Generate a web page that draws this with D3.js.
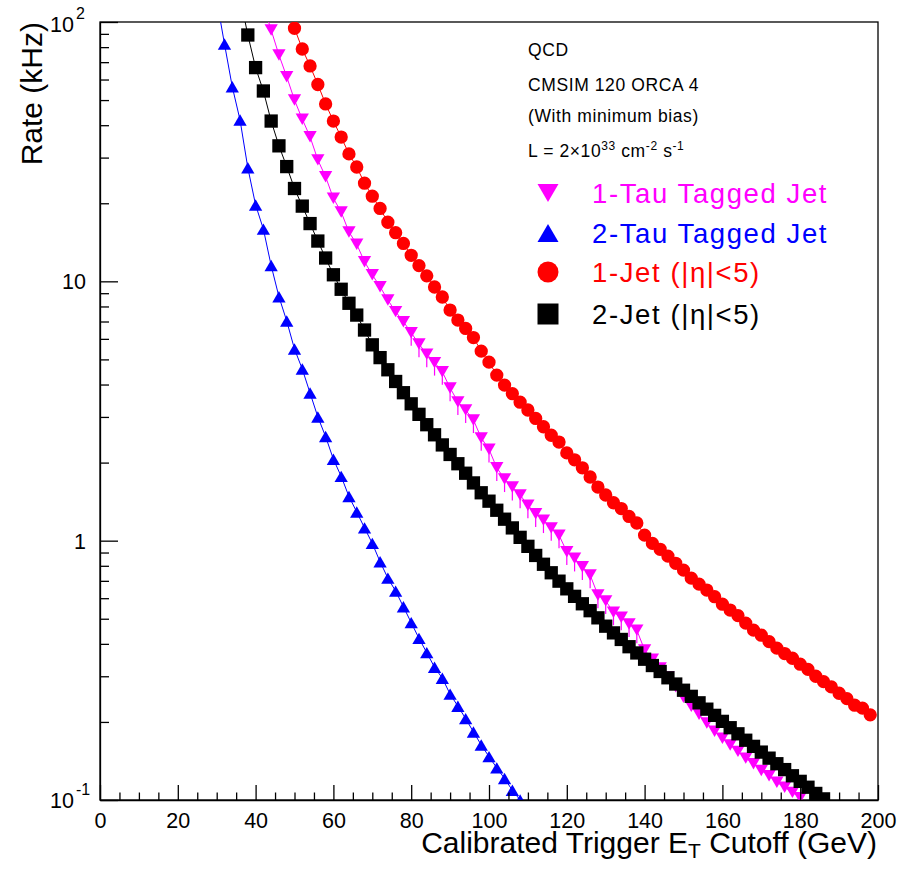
<!DOCTYPE html>
<html>
<head>
<meta charset="utf-8">
<script src="https://cdn.jsdelivr.net/npm/d3@7"></script>
<style>
  body { margin: 0; background: #fff; }
  svg { display: block; }
  text { font-family: "Liberation Sans", Arial, Helvetica, sans-serif; fill: #000; }
</style>
</head>
<body>
<svg id="chart" width="906" height="870"></svg>
<script>
// ---- Trigger rate vs calibrated ET cutoff (QCD, L = 2e33) ----

// 1-Jet (|eta|<5)
const oneJetEt = [48,50,52,54,56,58,60,62,64,66,68,70,72,74,76,78,80,82,84,86,88,90,92,94,96,98,
  100,102,104,106,108,110,112,114,116,118,120,122,124,126,128,130,132,134,136,138,140,142,144,146,148,
  150,152,154,156,158,160,162,164,166,168,170,172,174,176,178,180,182,184,186,188,190,192,194,196,198];
const oneJetRate = [114,94.6,78.7,67.7,57.4,48.3,41.5,36.0,31.0,27.6,23.9,21.3,19.1,16.9,15.4,14.0,12.6,11.5,10.5,9.51,8.70,7.75,7.09,6.58,6.07,5.38,
  4.88,4.35,3.98,3.69,3.42,3.19,2.96,2.75,2.55,2.40,2.18,2.05,1.91,1.76,1.61,1.50,1.40,1.33,1.24,1.17,1.05,0.976,0.926,0.872,0.818,
  0.770,0.717,0.680,0.645,0.608,0.569,0.540,0.514,0.481,0.452,0.432,0.408,0.385,0.367,0.352,0.334,0.319,0.300,0.286,0.273,0.258,0.246,0.232,0.226,0.213];

// 2-Jet (|eta|<5)
const twoJetEt = [36,38,40,42,44,46,48,50,52,54,56,58,60,62,64,66,68,70,72,74,76,78,80,82,84,86,88,90,92,94,96,98,
  100,102,104,106,108,110,112,114,116,118,120,122,124,126,128,130,132,134,136,138,140,142,144,146,148,
  150,152,154,156,158,160,162,164,166,168,170,172,174,176,178,180,182,184,186];
const twoJetRate = [125,89.1,66.7,54.2,41.5,33.3,27.7,22.8,19.5,16.7,14.3,12.3,10.6,9.32,8.23,7.41,6.49,5.69,5.08,4.56,4.11,3.72,3.37,3.07,2.80,2.56,2.34,2.15,1.98,1.82,1.67,1.53,
  1.42,1.31,1.21,1.12,1.03,0.951,0.877,0.811,0.752,0.698,0.652,0.610,0.571,0.537,0.504,0.468,0.441,0.416,0.390,0.369,0.349,0.330,0.313,0.296,0.280,
  0.265,0.251,0.237,0.224,0.212,0.201,0.190,0.180,0.170,0.161,0.153,0.145,0.138,0.131,0.124,0.118,0.112,0.106,0.101];

// 1-Tau tagged jet, with asymmetric statistical errors
const oneTauEt = [42,44,46,48,50,52,54,56,58,60,62,64,66,68,70,72,74,76,78,80,82,84,86,88,90,92,94,96,98,
  100,102,104,106,108,110,112,114,116,118,120,122,124,126,128,130,132,134,136,138,140,142,144,146,148,
  150,152,154,156,158,160,162,164,166,168,170,172,174,176,178,180];
const oneTauRate = [116,93.1,74.6,61.5,50.0,42.2,36.1,29.4,25.3,20.9,18.5,15.5,13.9,11.9,10.6,9.53,8.47,7.64,6.99,6.34,5.73,5.24,4.86,4.48,3.88,3.43,3.19,2.92,2.49,
  2.25,1.91,1.73,1.61,1.50,1.37,1.27,1.20,1.12,1.05,0.906,0.855,0.793,0.737,0.617,0.586,0.530,0.507,0.477,0.452,0.379,0.349,0.323,0.298,0.273,
  0.249,0.230,0.214,0.198,0.184,0.173,0.163,0.154,0.145,0.138,0.130,0.124,0.117,0.112,0.107,0.102];
const oneTauErrLow = [0,0,0,0,0,0,0,0,0,0,0,0,0,0,0,0,0,0,0,0.70,0.63,0.58,0.53,0.49,0.43,0.38,0.35,0.32,0.27,
  0.25,0.21,0.19,0.18,0.165,0.15,0.14,0.13,0.12,0.115,0.10,0.094,0.087,0.081,0.068,0.064,0.058,0.056,0.052,0.050,0,0,0,0,0,
  0,0,0,0,0,0,0,0,0,0,0,0,0,0,0,0];
const oneTauErrHigh = [0,0,0,0,0,0,0,0,0,0,0,0,0,0,0,0,0,0,0,0.19,0.17,0.16,0.15,0.13,0.12,0.10,0.096,0.088,0.075,
  0.068,0.057,0.052,0.048,0.045,0.041,0.038,0.036,0.034,0.032,0.027,0.026,0.024,0.022,0.019,0.018,0.016,0.015,0.014,0.014,0,0,0,0,0,
  0,0,0,0,0,0,0,0,0,0,0,0,0,0,0,0];

// 2-Tau tagged jet
const twoTauEt = [30,32,34,36,38,40,42,44,46,48,50,52,54,56,58,60,62,64,66,68,70,72,74,76,78,80,82,84,86,88,90,92,94,96,98,100,102,104,106,108];
const twoTauRate = [122,82.3,56.3,41.9,27.4,19.7,15.9,11.5,8.72,7.03,5.48,4.59,3.71,3.00,2.52,2.06,1.77,1.48,1.29,1.12,
  0.976,0.829,0.717,0.639,0.556,0.483,0.420,0.370,0.325,0.295,0.256,0.230,0.206,0.183,0.163,0.147,0.133,0.121,0.109,0.100];

// axis ticks
const xMajorTicks = [0,20,40,60,80,100,120,140,160,180,200];
const xMinorTicks = [5,10,15,25,30,35,45,50,55,65,70,75,85,90,95,105,110,115,125,130,135,145,150,155,165,170,175,185,190,195];
const yMajorTicks = [0.1,1,10,100];
const yMinorTicks = [0.2,0.3,0.4,0.5,0.6,0.7,0.8,0.9,2,3,4,5,6,7,8,9,20,30,40,50,60,70,80,90];
const yTickBase = ["10","1","10","10"];
const yTickExp = ["-1","","","2"];

// annotation and legend text
const infoLines = ["QCD","CMSIM 120 ORCA 4","(With minimum bias)"];
const legendLabels = ["1-Tau Tagged Jet","2-Tau Tagged Jet","1-Jet (|\u03B7|<5)","2-Jet (|\u03B7|<5)"];

const series = [
  { et: oneTauEt, rate: oneTauRate, lo: oneTauErrLow, hi: oneTauErrHigh, color: "#ff00ff", shape: "down" },
  { et: twoTauEt, rate: twoTauRate, lo: null, hi: null, color: "#0000ff", shape: "up" },
  { et: oneJetEt, rate: oneJetRate, lo: null, hi: null, color: "#ff0000", shape: "circle" },
  { et: twoJetEt, rate: twoJetRate, lo: null, hi: null, color: "#000000", shape: "square" }
];
const legendOrder = [0, 1, 2, 3];

// ---- layout ----
const svg = d3.select("#chart");
const frame = { left: 100, right: 878, top: 22, bottom: 800 };
const x = d3.scaleLinear().domain([0, 200]).range([frame.left, frame.right]);
const y = d3.scaleLog().domain([0.1, 100]).range([frame.bottom, frame.top]);

svg.append("defs").append("clipPath").attr("id", "plotClip")
  .append("rect")
  .attr("x", frame.left).attr("y", frame.top)
  .attr("width", frame.right - frame.left).attr("height", frame.bottom - frame.top);

// marker shapes, centred on the point
function markerPath(shape, s) {
  const h = s / 2;
  if (shape === "square") return `M${-h},${-h}H${h}V${h}H${-h}Z`;
  if (shape === "up") { const t = s * 0.43; return `M0,${-t}L${h},${t}L${-h},${t}Z`; }
  if (shape === "down") { const t = s * 0.43; return `M0,${t}L${h},${-t}L${-h},${-t}Z`; }
  return d3.arc()({ innerRadius: 0, outerRadius: h, startAngle: 0, endAngle: 2 * Math.PI });
}

// frame box
svg.append("rect")
  .attr("x", frame.left).attr("y", frame.top)
  .attr("width", frame.right - frame.left).attr("height", frame.bottom - frame.top)
  .attr("fill", "none").attr("stroke", "#000").attr("stroke-width", 1.3);

// data
const plot = svg.append("g").attr("clip-path", "url(#plotClip)");
const line = d3.line().x(d => x(d.et)).y(d => y(d.rate));

series.forEach(s => {
  const pts = s.et.map((e, i) => ({
    et: e, rate: s.rate[i],
    lo: s.lo ? s.lo[i] : 0, hi: s.hi ? s.hi[i] : 0
  }));
  plot.append("path").datum(pts)
    .attr("d", line).attr("fill", "none")
    .attr("stroke", s.color).attr("stroke-width", 1);
  const inside = pts.filter(p => p.rate >= 0.1 && p.rate <= 100);
  plot.selectAll(null).data(inside.filter(p => p.lo > 0 || p.hi > 0)).enter().append("line")
    .attr("x1", p => x(p.et)).attr("x2", p => x(p.et))
    .attr("y1", p => y(p.rate + p.hi)).attr("y2", p => y(p.rate - p.lo))
    .attr("stroke", s.color).attr("stroke-width", 1.2);
  plot.selectAll(null).data(inside).enter().append("path")
    .attr("transform", p => `translate(${x(p.et)},${y(p.rate)})`)
    .attr("d", markerPath(s.shape, 13.3))
    .attr("fill", s.color);
});

// x axis
const xAxisG = svg.append("g").attr("transform", `translate(0,${frame.bottom})`);
xAxisG.call(d3.axisBottom(x).tickValues(xMajorTicks).tickSize(-15).tickPadding(28).tickSizeOuter(0).tickFormat(d3.format("d")));
xAxisG.append("g").call(d3.axisBottom(x).tickValues(xMinorTicks).tickSize(-7.5).tickFormat("").tickSizeOuter(0))
  .select(".domain").remove();
xAxisG.selectAll("line").attr("stroke", "#000").attr("stroke-width", 1.3);
xAxisG.selectAll(".domain").attr("stroke", "#000").attr("stroke-width", 1.3);
xAxisG.selectAll("text").attr("dy", 0).attr("y", 28)
  .style("font-size", "21.5px")
  .style("font-family", "'Liberation Sans', Arial, sans-serif").style("fill", "#000");

// y axis
const yAxisG = svg.append("g").attr("transform", `translate(${frame.left},0)`);
yAxisG.call(d3.axisLeft(y).tickValues(yMajorTicks).tickSize(-18).tickSizeOuter(0).tickFormat(""));
yAxisG.append("g").call(d3.axisLeft(y).tickValues(yMinorTicks).tickSize(-9).tickFormat("").tickSizeOuter(0))
  .select(".domain").remove();
yAxisG.selectAll("line").attr("stroke", "#000").attr("stroke-width", 1.3);
yAxisG.selectAll(".domain").attr("stroke", "#000").attr("stroke-width", 1.3);

yMajorTicks.forEach((v, i) => {
  const ty = Math.max(y(v) + 8, 32);
  if (yTickExp[i]) {
    svg.append("text").attr("x", 74).attr("y", ty).attr("text-anchor", "end")
      .style("font-size", "21.5px").text(yTickBase[i]);
    svg.append("text").attr("x", 76).attr("y", ty - 13).style("font-size", "16px").text(yTickExp[i]);
  } else {
    svg.append("text").attr("x", 86).attr("y", ty).attr("text-anchor", "end")
      .style("font-size", "21.5px").text(yTickBase[i]);
  }
});

// axis titles
const xTitle = svg.append("text").attr("x", 877).attr("y", 853)
  .attr("text-anchor", "end").style("font-size", "30px");
xTitle.append("tspan").text("Calibrated Trigger E");
xTitle.append("tspan").style("font-size", "21px").attr("dy", 5).text("T");
xTitle.append("tspan").attr("dy", -5).text(" Cutoff (GeV)");

svg.append("text")
  .attr("transform", "translate(42,22) rotate(-90)")
  .attr("text-anchor", "end").style("font-size", "30px")
  .text("Rate (kHz)");

// run conditions
const infoY = [56, 91, 122];
infoLines.forEach((t, i) => {
  svg.append("text").attr("x", 528).attr("y", infoY[i])
    .style("font-size", "17.5px").attr("letter-spacing", 0.6).text(t);
});
const lumi = svg.append("text").attr("x", 528).attr("y", 157)
  .style("font-size", "17.5px").attr("letter-spacing", 0.6);
lumi.append("tspan").text("L = 2\u00D710");
lumi.append("tspan").style("font-size", "12px").attr("dy", -7).text("33");
lumi.append("tspan").attr("dy", 7).text(" cm");
lumi.append("tspan").style("font-size", "12px").attr("dy", -7).text("-2");
lumi.append("tspan").attr("dy", 7).text(" s");
lumi.append("tspan").style("font-size", "12px").attr("dy", -7).text("-1");

// legend
const legendY = [193, 233, 272, 314];
legendOrder.forEach((si, i) => {
  const s = series[si];
  svg.append("path")
    .attr("transform", `translate(548,${legendY[i]})`)
    .attr("d", markerPath(s.shape, 21))
    .attr("fill", s.color);
  svg.append("text").attr("x", 592).attr("y", legendY[i] + 10)
    .style("font-size", "27.5px").attr("letter-spacing", 1.6)
    .style("fill", s.color)
    .text(legendLabels[i]);
});
</script>
</body>
</html>
